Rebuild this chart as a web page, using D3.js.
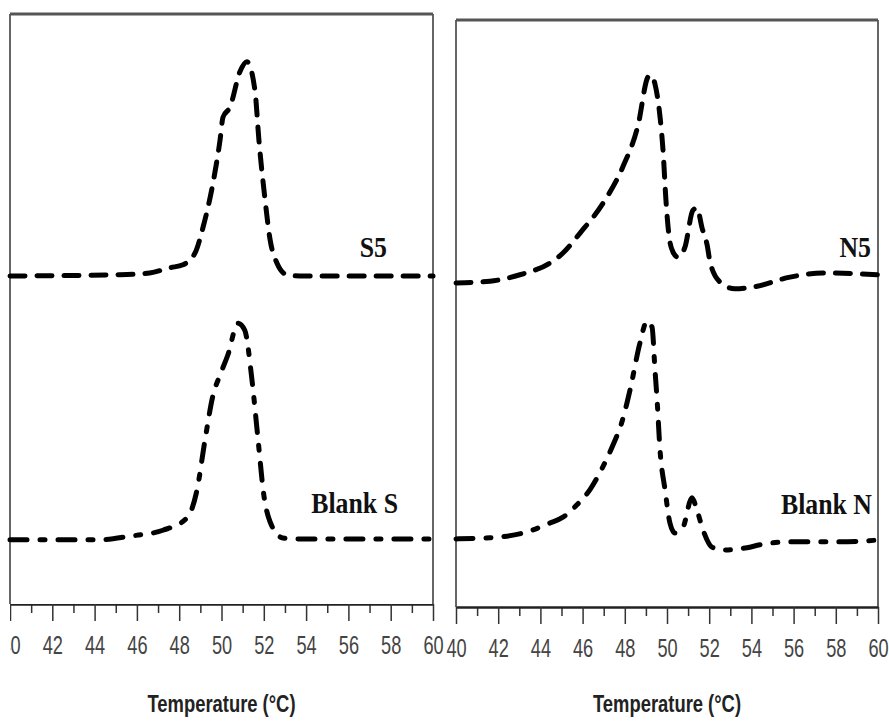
<!DOCTYPE html>
<html>
<head>
<meta charset="utf-8" />
<title>DSC thermograms</title>
<script src="https://d3js.org/d3.v7.min.js"></script>
<style>
  body { margin: 0; background: #fff; }
  svg { display: block; }
</style>
</head>
<body>
<script>
  // temperatures (°C) and heat flow (arbitrary units, 0-100 on panel height)
  var s5T   = [40, 45.2, 46.6, 47.57, 48.18, 48.75, 49.13, 49.6, 49.93, 50.07, 50.4, 50.87, 51.2, 51.58, 51.77, 52.06, 52.3, 52.62, 53.1, 53.7, 60];
  var s5Val = [55.6, 55.8, 56.1, 57.0, 57.5, 59.5, 63.9, 71.4, 78.6, 82.5, 84.2, 90.2, 91.9, 87.1, 78.6, 68.5, 61.7, 57.8, 55.8, 55.6, 55.6];

  var blankST   = [40, 44.26, 45.67, 47.23, 48.37, 48.84, 49.22, 49.6, 49.93, 50.3, 50.78, 51.1, 51.44, 51.73, 52.0, 52.3, 52.9, 53.7, 60];
  var blankSVal = [10.9, 10.9, 11.5, 12.5, 14.6, 19.3, 27.8, 35.4, 38.8, 42.2, 47.6, 46.4, 38.0, 27.8, 18.5, 13.9, 11.2, 11.0, 11.0];

  var n5T   = [40, 41.61, 43.03, 44.45, 45.07, 45.88, 46.97, 47.91, 48.63, 49.1, 49.24, 49.43, 49.67, 49.81, 49.95, 50.09, 50.28, 50.52, 50.85, 51.23, 51.42, 51.66, 51.9, 52.04, 52.5, 53.22, 54.08, 55.83, 57.39, 60];
  var n5Val = [55.2, 55.5, 56.6, 58.6, 60.3, 63.7, 68.8, 75.0, 82.1, 90.3, 90.6, 89.1, 83.5, 77.9, 69.3, 63.4, 60.5, 59.6, 61.3, 67.6, 68.0, 64.6, 61.7, 58.8, 55.4, 54.2, 54.5, 56.2, 56.9, 56.6];

  var blankNT   = [40, 41.61, 43.18, 44.45, 45.07, 45.73, 46.35, 46.92, 47.44, 47.87, 48.25, 48.72, 49.05, 49.29, 49.43, 49.53, 49.67, 49.91, 50.14, 50.38, 50.76, 51.18, 51.42, 51.71, 52.13, 52.65, 53.79, 54.41, 55.83, 58.2, 60];
  var blankNVal = [11.6, 11.8, 12.6, 14.3, 15.3, 17.4, 20.0, 23.6, 27.6, 31.6, 37.0, 45.0, 48.7, 47.7, 40.4, 35.3, 26.7, 19.9, 14.3, 12.6, 13.6, 18.6, 16.5, 13.1, 10.2, 9.7, 10.1, 10.6, 11.1, 11.1, 11.4];

  var majorTicks = [40, 42, 44, 46, 48, 50, 52, 54, 56, 58, 60];
  var minorTicks = [41, 43, 45, 47, 49, 51, 53, 55, 57, 59];
  var axisTitle = "Temperature (°C)";

  function zip(t, v) {
    return t.map(function(d, i) { return { t: d, v: v[i] }; });
  }

  var svg = d3.select("body").append("svg")
      .attr("width", 889)
      .attr("height", 724);

  svg.append("rect").attr("width", 889).attr("height", 724).attr("fill", "#fff");

  var panels = [
    { x0: 10, x1: 433, top: 14, bottom: 604, clipLeft: true,
      series: [
        { data: zip(s5T, s5Val), label: "S5", dash: "15,12", lx: 387, ly: 257 },
        { data: zip(blankST, blankSVal), label: "Blank S", dash: "17,13,5,13", lx: 398, ly: 513 }
      ] },
    { x0: 456, x1: 878, top: 20, bottom: 607, clipLeft: false,
      series: [
        { data: zip(n5T, n5Val), label: "N5", dash: "15,12", lx: 871, ly: 257 },
        { data: zip(blankNT, blankNVal), label: "Blank N", dash: "17,13,5,13", lx: 872, ly: 514 }
      ] }
  ];

  svg.append("clipPath").attr("id", "edge")
    .append("rect").attr("x", 10).attr("y", 0).attr("width", 889).attr("height", 724);

  panels.forEach(function(p) {
    var x = d3.scaleLinear().domain([40, 60]).range([p.x0, p.x1]);
    var y = d3.scaleLinear().domain([0, 100]).range([p.bottom, p.top]);

    var g = svg.append("g");

    // frame
    g.append("line").attr("x1", p.x0).attr("x2", p.x0).attr("y1", p.top).attr("y2", p.bottom)
      .attr("stroke", "#333").attr("stroke-width", 1.5);
    g.append("line").attr("x1", p.x1).attr("x2", p.x1).attr("y1", p.top).attr("y2", p.bottom)
      .attr("stroke", "#333").attr("stroke-width", 1.5);
    g.append("line").attr("x1", p.x0).attr("x2", p.x1).attr("y1", p.top).attr("y2", p.top)
      .attr("stroke", "#555").attr("stroke-width", 3);

    // minor ticks
    g.append("g")
      .attr("transform", "translate(0," + p.bottom + ")")
      .call(d3.axisBottom(x).tickValues(minorTicks).tickSize(9).tickSizeOuter(0).tickFormat(""))
      .call(function(a) { a.select(".domain").remove(); })
      .selectAll("line").attr("stroke", "#333").attr("stroke-width", 1.5);

    // major ticks + labels
    var ax = g.append("g")
      .attr("transform", "translate(0," + p.bottom + ")")
      .call(d3.axisBottom(x).tickValues(majorTicks).tickSize(17).tickSizeOuter(0).tickPadding(15).tickFormat(d3.format("d")));
    ax.select(".domain").attr("stroke", "#222").attr("stroke-width", 2.5);
    ax.selectAll("line").attr("stroke", "#333").attr("stroke-width", 1.5);
    ax.selectAll("text")
      .attr("fill", "#444")
      .attr("transform", "scale(0.7,1)")
      .style("font-family", "'Liberation Sans', Arial, sans-serif")
      .style("font-size", "26px");
    if (p.clipLeft) ax.attr("clip-path", "url(#edge)");

    // curves
    var line = d3.line()
      .x(function(d) { return x(d.t); })
      .y(function(d) { return y(d.v); })
      .curve(d3.curveMonotoneX);

    p.series.forEach(function(s) {
      g.append("path")
        .datum(s.data)
        .attr("d", line)
        .attr("fill", "none")
        .attr("stroke", "#000")
        .attr("stroke-width", 5)
        .attr("stroke-linecap", "round")
        .attr("stroke-dasharray", s.dash);

      g.append("text")
        .attr("transform", "translate(" + s.lx + "," + s.ly + ") scale(0.86,1)")
        .attr("text-anchor", "end")
        .style("font-family", "'Liberation Serif', 'Times New Roman', serif")
        .style("font-weight", "bold")
        .style("font-size", "30px")
        .attr("fill", "#111")
        .text(s.label);
    });

    g.append("text")
      .attr("transform", "translate(" + ((p.x0 + p.x1) / 2) + ",712) scale(0.8,1)")
      .attr("text-anchor", "middle")
      .style("font-family", "'Liberation Sans', Arial, sans-serif")
      .style("font-weight", "bold")
      .style("font-size", "23px")
      .attr("fill", "#222")
      .text(axisTitle);
  });
</script>
</body>
</html>
